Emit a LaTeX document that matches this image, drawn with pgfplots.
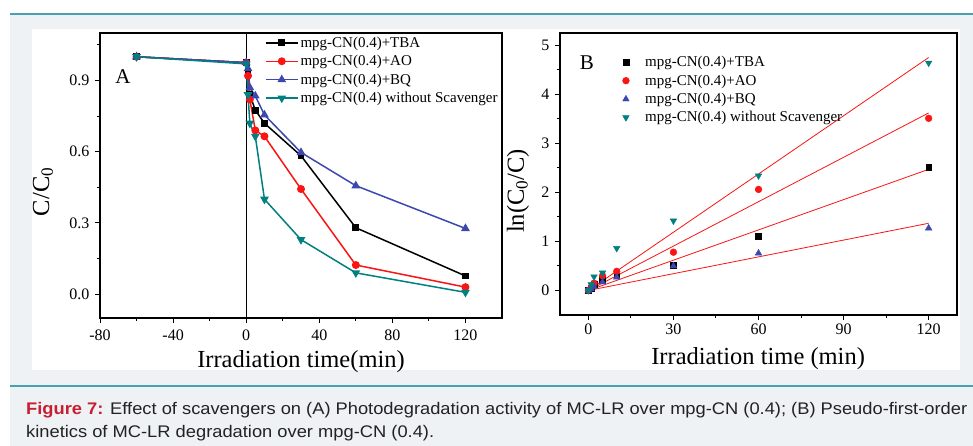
\documentclass[border=0pt]{standalone}
\usepackage{pgfplots}
\pgfplotsset{compat=1.18}
\usepackage{fontspec}
\usepackage{graphicx}
\setmainfont{Liberation Serif}
\newfontfamily\capfont{Liberation Sans}

\definecolor{bgc}{RGB}{238,242,245}
\definecolor{tealline}{RGB}{72,160,176}
\definecolor{capred}{RGB}{200,30,50}
\definecolor{captext}{RGB}{34,34,34}
\definecolor{sblue}{RGB}{60,72,176}
\definecolor{steal}{RGB}{0,128,128}
\definecolor{sred}{RGB}{250,20,20}

\pgfplotsset{
  common/.style={
    scale only axis,
    axis line style={line width=1.3pt},
    tick style={line width=1pt,black},
    tick align=outside, tick pos=left,
    major tick length=5pt, minor tick length=3pt,
    ticklabel style={font=\fontsize{16}{16}\selectfont},
    /pgf/number format/assume math mode=true,
    label style={font=\fontsize{24.5}{24.5}\selectfont},
  },
  lineA/.style={line width=1.5pt,mark options={solid}},
}

\begin{document}
\begin{tikzpicture}
\path[use as bounding box] (0,0) rectangle (973pt,446pt);
\fill[white] (0,0) rectangle (973pt,446pt);
\fill[bgc] (10pt,0) rectangle (973pt,432pt);
\draw[tealline,line width=2pt] (10pt,432pt) -- (973pt,432pt);
\draw[tealline,line width=2pt] (10pt,60pt) -- (973pt,60pt);
\fill[white] (32pt,76pt) rectangle (960pt,417pt);

% panel A
\begin{axis}[common,
  at={(100pt,413pt)}, anchor=north west, width=402pt, height=285pt,
  xmin=-80, xmax=140, ymin=-0.1, ymax=1.1,
  xtick={-80,-40,0,40,80,120}, minor xtick={-60,-20,20,60,100},
  ytick={0,0.3,0.6,0.9}, minor ytick={0.15,0.45,0.75,1.05},
  yticklabel style={xshift=-2pt,/pgf/number format/.cd,fixed,fixed zerofill,precision=1},
  xticklabel style={yshift=-3pt},
  xlabel={Irradiation time(min)}, ylabel={C/C\textsubscript{0}},
  xlabel style={at={(axis description cs:0.5,-0.152)},anchor=center},
  ylabel style={at={(axis description cs:-0.142,0.443)},anchor=center},
  legend style={at={(axis description cs:0.41,0.994)},anchor=north west,
    draw=none,fill=none,inner sep=0pt,row sep=2.5pt,
    font=\fontsize{15}{15}\selectfont,cells={anchor=west}},
  legend image code/.code={\draw[mark repeat=2,mark phase=2,#1]
    plot coordinates {(0pt,0pt) (16pt,0pt) (32pt,0pt)};},
]
\addplot[black,line width=1.3pt,forget plot] coordinates {(0,-0.1) (0,1.1)};
\addplot[lineA,black,mark=square*,mark size=2.7pt] coordinates {
  (-60,1.0) (0,0.975) (1,0.94) (2,0.84) (5,0.775) (10,0.72) (30,0.583) (60,0.28) (120,0.077)};
\addplot[lineA,sred,mark=*,mark size=3.2pt] coordinates {
  (-60,1.0) (0,0.975) (1,0.92) (2,0.82) (5,0.69) (10,0.665) (30,0.443) (60,0.123) (120,0.03)};
\addplot[lineA,sblue,mark=triangle*,mark size=3.6pt] coordinates {
  (-60,1.0) (0,0.975) (1,0.95) (2,0.87) (5,0.835) (10,0.755) (30,0.597) (60,0.457) (120,0.277)};
\addplot[lineA,steal,mark=triangle*,mark size=3.6pt,mark options={rotate=180}] coordinates {
  (-60,1.0) (0,0.97) (1,0.84) (2,0.72) (5,0.665) (10,0.40) (30,0.23) (60,0.09) (120,0.008)};
\legend{mpg-CN(0.4)+TBA,mpg-CN(0.4)+AO,mpg-CN(0.4)+BQ,mpg-CN(0.4) without Scavenger}
\node[font=\fontsize{21}{21}\selectfont] at (axis description cs:0.057,0.847) {A};
\end{axis}

% panel B
\begin{axis}[common,
  at={(560pt,413pt)}, anchor=north west, width=397pt, height=282pt,
  xmin=-10, xmax=130, ymin=-0.5, ymax=5.25,
  xtick={0,30,60,90,120}, minor xtick={15,45,75,105},
  ytick={0,1,2,3,4,5}, minor ytick={0.5,1.5,2.5,3.5,4.5},
  yticklabel style={xshift=-2pt},
  xlabel={Irradiation time (min)}, ylabel={ln(C\textsubscript{0}/C)},
  xlabel style={at={(axis description cs:0.499,-0.155)},anchor=center},
  ylabel style={at={(axis description cs:-0.106,0.44)},anchor=center},
  legend style={at={(axis description cs:0.157,0.925)},anchor=north west,
    draw=none,fill=none,inner sep=0pt,row sep=2.5pt,
    font=\fontsize{15}{15}\selectfont,cells={anchor=west}},
  legend image code/.code={\draw[#1] plot coordinates {(0pt,0pt)}; \path (17pt,0pt);},
]
\addplot[sred,line width=0.8pt,forget plot] coordinates {(0,0) (120,4.75)};
\addplot[sred,line width=0.8pt,forget plot] coordinates {(0,0) (120,3.62)};
\addplot[sred,line width=0.8pt,forget plot] coordinates {(0,0) (120,2.47)};
\addplot[sred,line width=0.8pt,forget plot] coordinates {(0,0) (120,1.37)};
\addplot[only marks,black,mark=square*,mark size=2.9pt] coordinates {
  (0,0) (1,0.05) (2,0.12) (5,0.23) (10,0.30) (30,0.51) (60,1.10) (120,2.52)};
\addplot[only marks,sred,mark=*,mark size=3.4pt] coordinates {
  (0,0) (1,0.06) (2,0.15) (5,0.30) (10,0.39) (30,0.78) (60,2.06) (120,3.51)};
\addplot[only marks,sblue,mark=triangle*,mark size=3.8pt] coordinates {
  (0,0) (1,0.03) (2,0.08) (5,0.17) (10,0.27) (30,0.50) (60,0.76) (120,1.27)};
\addplot[only marks,steal,mark=triangle*,mark size=3.8pt,mark options={rotate=180}] coordinates {
  (0,0) (1,0.12) (2,0.28) (5,0.36) (10,0.86) (30,1.42) (60,2.34) (120,4.64)};
\legend{mpg-CN(0.4)+TBA,mpg-CN(0.4)+AO,mpg-CN(0.4)+BQ,mpg-CN(0.4) without Scavenger}
\node[font=\fontsize{21}{21}\selectfont] at (axis description cs:0.068,0.894) {B};
\end{axis}

% caption
\node[anchor=base west,inner sep=0pt] at (26pt,31.7pt) {\resizebox{941pt}{\height}{\capfont\fontsize{16.8}{20}\selectfont\textcolor{capred}{\bfseries Figure 7:} \textcolor{captext}{Effect of scavengers on (A) Photodegradation activity of MC-LR over mpg-CN (0.4); (B) Pseudo-first-order}}};
\node[anchor=base west,inner sep=0pt] at (26pt,8.5pt) {\resizebox{408pt}{\height}{\capfont\fontsize{16.8}{20}\selectfont\textcolor{captext}{kinetics of MC-LR degradation over mpg-CN (0.4).}}};
\end{tikzpicture}
\end{document}
